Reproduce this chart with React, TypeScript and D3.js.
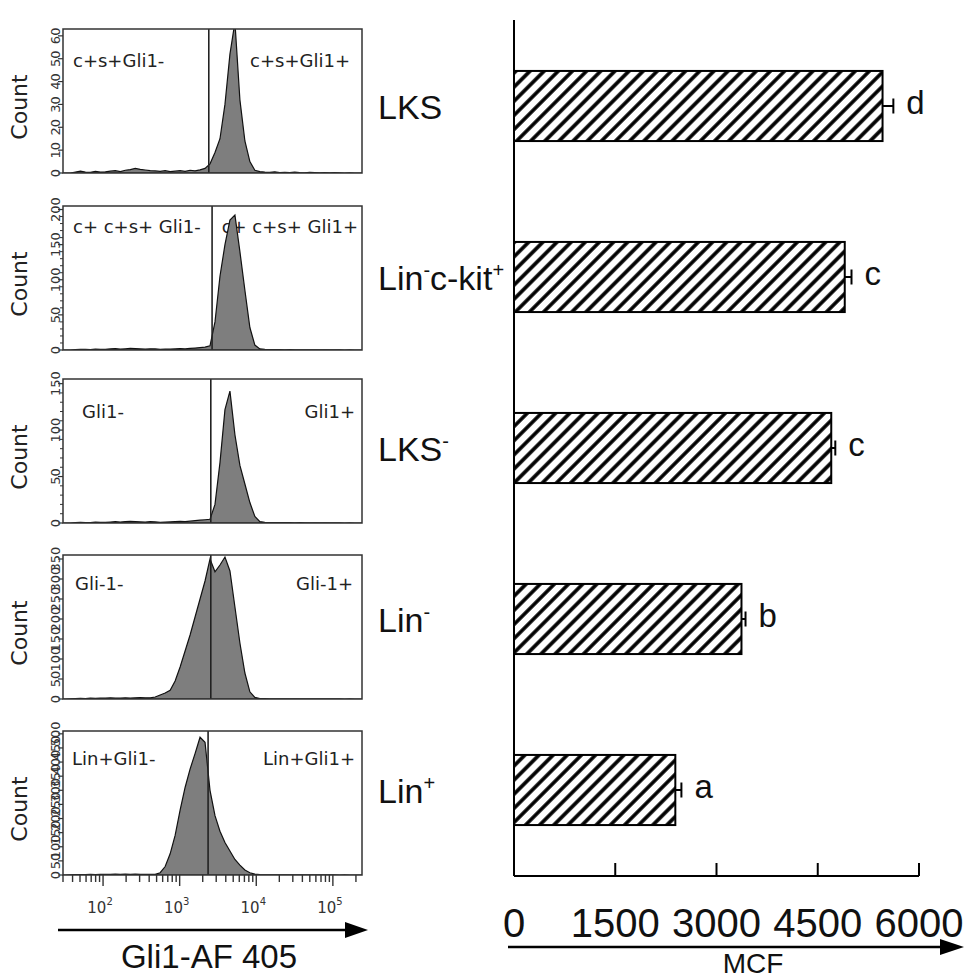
import * as d3 from 'd3';

// bar chart (right)
const categories = ['LKS', 'Lin-c-kit+', 'LKS-', 'Lin-', 'Lin+'];
const mcfMeans = [5460, 4900, 4700, 3370, 2390];
const mcfErrors = [160, 100, 60, 60, 90];
const sigLetters = ['d', 'c', 'c', 'b', 'a'];
const mcfTicks = [0, 1500, 3000, 4500, 6000];

// flow histograms (left)
const gateLeftLabels = ['c+s+Gli1-', 'c+ c+s+ Gli1-', 'Gli1-', 'Gli-1-', 'Lin+Gli1-'];
const gateRightLabels = ['c+s+Gli1+', 'c+ c+s+ Gli1+', 'Gli1+', 'Gli-1+', 'Lin+Gli1+'];
const countMax = [63, 205, 155, 360, 510];
const countTicks = [
  [0, 10, 20, 30, 40, 50, 60],
  [0, 50, 100, 150, 200],
  [0, 50, 100, 150],
  [0, 50, 100, 150, 200, 250, 300, 350],
  [0, 50, 100, 150, 200, 250, 300, 350, 400, 450, 500],
];
const countMinorStep = [0, 10, 10, 0, 0];
const gates = [2400, 2650, 2550, 2550, 2350];

// 60 log-spaced bins from 30 to 240000
const histLKS = [
  0, 0, 0.4, 0.8, 0.4, 0.3, 0.7, 0.4, 0.5, 0.8, 1, 0.6, 1.2, 1.5, 2, 1.6, 1.3, 1, 0.9, 0.7,
  1, 0.6, 0.8, 1, 0.7, 1.2, 0.9, 1.4, 2, 4, 9, 15, 30, 52, 66, 32, 14, 5, 1.2, 0.6,
  0.4, 0.3, 0.5, 0.2, 0.3, 0.2, 0.4, 0.2, 0.1, 0.3, 0.2, 0.1, 0.2, 0.1, 0.2, 0.1, 0, 0.1, 0, 0,
];
const histLinKit = [
  0, 0, 0.5, 1, 0.8, 0.5, 1.2, 1, 0.8, 1.5, 2, 1.2, 1.8, 2.5, 2, 1.6, 1.2, 1.8, 1.5, 1,
  1.4, 1.2, 1.6, 2, 1.5, 2.2, 2.8, 3.5, 4, 6, 40, 105, 150, 185, 192, 140, 85, 32, 7, 1.5,
  0.8, 0.5, 0.4, 0.6, 0.3, 0.4, 0.2, 0.3, 0.2, 0.2, 0.3, 0.1, 0.2, 0.1, 0.1, 0.2, 0, 0.1, 0, 0,
];
const histLKSneg = [
  0, 0, 0.5, 0.8, 0.5, 0.4, 1, 0.8, 0.6, 1, 1.4, 1, 1.5, 1.8, 1.5, 1.2, 1, 1.4, 1.2, 0.8,
  1, 1.2, 1.5, 1.8, 1.4, 2, 2.5, 3, 3.5, 4, 20, 65, 122, 142, 95, 62, 42, 22, 7, 1.5,
  0.7, 0.5, 0.4, 0.5, 0.3, 0.3, 0.2, 0.3, 0.2, 0.1, 0.2, 0.1, 0.2, 0.1, 0.1, 0.1, 0, 0.1, 0, 0,
];
const histLinNeg = [
  0, 0.5, 1, 1.5, 1, 2, 1.5, 2.5, 2, 3, 2.5, 2, 3, 2.5, 3, 3.5, 3, 3, 5, 10,
  15, 22, 45, 80, 120, 160, 205, 250, 295, 350, 318, 335, 355, 320, 230, 140, 65, 18, 4, 1,
  0.8, 0.5, 0.6, 0.4, 0.5, 0.3, 0.4, 0.2, 0.3, 0.2, 0.2, 0.1, 0.2, 0.1, 0.1, 0.1, 0, 0.1, 0, 0,
];
const histLinPos = [
  0, 0.5, 1, 1, 1.5, 2, 1.5, 2, 2.5, 2, 3, 2.5, 3, 2.5, 3, 2, 2.5, 2, 2, 8,
  30, 75, 140, 230, 310, 375, 430, 488, 470, 300, 210, 155, 115, 85, 55, 35, 18, 8, 3, 1,
  0.8, 0.6, 0.5, 0.4, 0.5, 0.3, 0.3, 0.2, 0.2, 0.2, 0.1, 0.2, 0.1, 0.1, 0.1, 0, 0.1, 0, 0, 0,
];
const histograms = [histLKS, histLinKit, histLKSneg, histLinNeg, histLinPos];

// layout
const W = 965;
const H = 979;
const panelLeft = 63;
const panelWidth = 299;
const panelHeight = 144;
const panelTops = [29, 206, 379, 555, 731];
const labelBaseline = [38, 27, 39, 35, 34];
const leftLabelX = [73, 73, 82, 75, 72];
const rightLabelX = [350, 358, 355, 353, 355];

const flowFont = '"DejaVu Sans", sans-serif';
const arial = '"Liberation Sans", Arial, sans-serif';

function CategoryLabel({ name, x, y }: { name: string; x: number; y: number }) {
  // superscript the trailing sign of each lineage marker
  const parts = name.match(/[^+-]+|[+-]/g) || [];
  const segs: { t: string; sup: boolean }[] = [];
  parts.forEach((p, i) => {
    const isSign = p === '+' || p === '-';
    const supSign = isSign && (i === parts.length - 1 || parts[i - 1] === 'Lin');
    if (isSign && !supSign) {
      segs[segs.length - 1].t += p;
    } else if (!isSign && segs.length && !segs[segs.length - 1].sup) {
      segs[segs.length - 1].t += p;
    } else {
      segs.push({ t: p, sup: supSign });
    }
  });
  let shifted = false;
  return (
    <text x={x} y={y} fontFamily={arial} fontSize={34} fill="#111">
      {segs.map((s, i) => {
        let dy = 0;
        if (s.sup && !shifted) { dy = -13; shifted = true; }
        else if (!s.sup && shifted) { dy = 13; shifted = false; }
        return (
          <tspan key={i} dy={dy} fontSize={s.sup ? 20 : 34}>{s.t}</tspan>
        );
      })}
    </text>
  );
}

function FlowPanel({ idx }: { idx: number }) {
  const top = panelTops[idx];
  const bottom = top + panelHeight;
  const right = panelLeft + panelWidth;
  const x = d3.scaleLog().domain([30, 240000]).range([panelLeft, right]);
  const y = d3.scaleLinear().domain([0, countMax[idx]]).range([bottom, top]);
  const counts = histograms[idx];
  const lo = Math.log10(30);
  const hi = Math.log10(240000);
  const step = (hi - lo) / counts.length;
  const pts: [number, number][] = [[30, 0]];
  counts.forEach((c, i) => pts.push([Math.pow(10, lo + (i + 0.5) * step), c]));
  pts.push([240000, 0]);
  const area = d3.area<[number, number]>()
    .x(d => x(d[0]))
    .y0(bottom)
    .y1(d => y(d[1]))
    .curve(d3.curveLinear);
  const minor = countMinorStep[idx]
    ? d3.range(0, countMax[idx], countMinorStep[idx]).filter(v => v % 50 !== 0)
    : [];
  const clipId = `clip${idx}`;
  const gx = x(gates[idx]);
  return (
    <g>
      <clipPath id={clipId}>
        <rect x={panelLeft} y={top} width={panelWidth} height={panelHeight} />
      </clipPath>
      <rect x={panelLeft} y={top} width={panelWidth} height={panelHeight} fill="#fff" />
      <text x={leftLabelX[idx]} y={top + labelBaseline[idx]} fontFamily={flowFont} fontSize={18} fill="#222">
        {gateLeftLabels[idx]}
      </text>
      <text x={rightLabelX[idx]} y={top + labelBaseline[idx]} textAnchor="end" fontFamily={flowFont} fontSize={18} fill="#222">
        {gateRightLabels[idx]}
      </text>
      <path d={area(pts) || ''} fill="#7e7e7e" stroke="#111" strokeWidth={1.2} clipPath={`url(#${clipId})`} />
      <line x1={gx} x2={gx} y1={top} y2={bottom} stroke="#222" strokeWidth={1.6} />
      <rect x={panelLeft} y={top} width={panelWidth} height={panelHeight} fill="none" stroke="#333" strokeWidth={1.5} />
      {/* count axis */}
      {countTicks[idx].map(t => (
        <g key={t}>
          <line x1={panelLeft - 5} x2={panelLeft} y1={y(t)} y2={y(t)} stroke="#333" strokeWidth={1.2} />
          <text
            x={panelLeft - 3}
            y={y(t)}
            textAnchor="middle"
            fontFamily={flowFont}
            fontSize={13}
            fill="#333"
            transform={`rotate(-90, ${panelLeft - 3}, ${y(t)})`}
          >
            {t}
          </text>
        </g>
      ))}
      {minor.map(t => (
        <line key={`m${t}`} x1={panelLeft - 3} x2={panelLeft} y1={y(t)} y2={y(t)} stroke="#333" strokeWidth={1} />
      ))}
      <text
        x={27}
        y={top + panelHeight / 2 + 6}
        textAnchor="middle"
        fontFamily={flowFont}
        fontSize={22}
        fill="#222"
        transform={`rotate(-90, 27, ${top + panelHeight / 2 + 6})`}
      >
        Count
      </text>
      {idx === panelTops.length - 1 && (
        <g>
          {x.ticks().map((t, i) => {
            const major = Math.abs(Math.log10(t) - Math.round(Math.log10(t))) < 1e-9;
            return (
              <line key={i} x1={x(t)} x2={x(t)} y1={bottom} y2={bottom + (major ? 11 : 7)} stroke="#333" strokeWidth={1.4} />
            );
          })}
          {[100, 1000, 10000, 100000].map(t => (
            <text key={t} x={x(t) - 3} y={bottom + 38} textAnchor="middle" fontFamily={flowFont} fontSize={15} fill="#333">
              10<tspan dy={-8} fontSize={10}>{Math.round(Math.log10(t))}</tspan>
            </text>
          ))}
        </g>
      )}
    </g>
  );
}

function MCFChart() {
  const x = d3.scaleLinear().domain([0, 6000]).range([514, 919]);
  const y = d3.scaleBand<string>().domain(categories).range([20.5, 875.5]).paddingInner(0.59).paddingOuter(0.295);
  const axisY = 876;
  return (
    <g>
      <defs>
        <pattern id="hatch" patternUnits="userSpaceOnUse" width={10} height={10} patternTransform="rotate(45)">
          <rect width={10} height={10} fill="#fff" />
          <line x1={5} x2={5} y1={0} y2={10} stroke="#000" strokeWidth={3.6} />
        </pattern>
      </defs>
      {categories.map((c, i) => {
        const by = y(c) as number;
        const bw = y.bandwidth();
        const cy = by + bw / 2;
        const xe = x(mcfMeans[i] + mcfErrors[i]);
        return (
          <g key={c}>
            <rect x={x(0)} y={by} width={x(mcfMeans[i]) - x(0)} height={bw} fill="url(#hatch)" stroke="#000" strokeWidth={2} />
            <line x1={x(mcfMeans[i])} x2={xe} y1={cy} y2={cy} stroke="#000" strokeWidth={2} />
            <line x1={xe} x2={xe} y1={cy - 7.5} y2={cy + 7.5} stroke="#000" strokeWidth={2} />
            <text x={xe + 13} y={cy + 8} fontFamily={arial} fontSize={33} fill="#111">{sigLetters[i]}</text>
            <CategoryLabel name={c} x={378} y={cy + 12.5} />
          </g>
        );
      })}
      {/* axes */}
      <line x1={x(0)} x2={x(0)} y1={20} y2={axisY} stroke="#000" strokeWidth={2} />
      <line x1={x(0)} x2={x(6000)} y1={axisY} y2={axisY} stroke="#000" strokeWidth={2} />
      {mcfTicks.map(t => (
        <g key={t}>
          <line x1={x(t)} x2={x(t)} y1={axisY} y2={axisY - 13} stroke="#000" strokeWidth={2} />
          <text x={x(t)} y={937} textAnchor="middle" fontFamily={arial} fontSize={40} fill="#111">{t}</text>
        </g>
      ))}
      <line x1={508} x2={945} y1={947} y2={947} stroke="#000" strokeWidth={2.5} />
      <polygon points="940,939 964,947 940,955" fill="#000" />
      <text x={753} y={973} textAnchor="middle" fontFamily={arial} fontSize={28} fill="#111">MCF</text>
    </g>
  );
}

export default function App() {
  return (
    <div>
      <style>{'body{margin:0;}'}</style>
      <svg width={W} height={H} style={{ display: 'block', background: '#fff' }}>
        {panelTops.map((_, i) => <FlowPanel key={i} idx={i} />)}
        <line x1={58} x2={350} y1={930} y2={930} stroke="#000" strokeWidth={2.5} />
        <polygon points="345,922 368,930 345,938" fill="#000" />
        <text x={209} y={968} textAnchor="middle" fontFamily={arial} fontSize={33} fill="#111">Gli1-AF 405</text>
        <MCFChart />
      </svg>
    </div>
  );
}
